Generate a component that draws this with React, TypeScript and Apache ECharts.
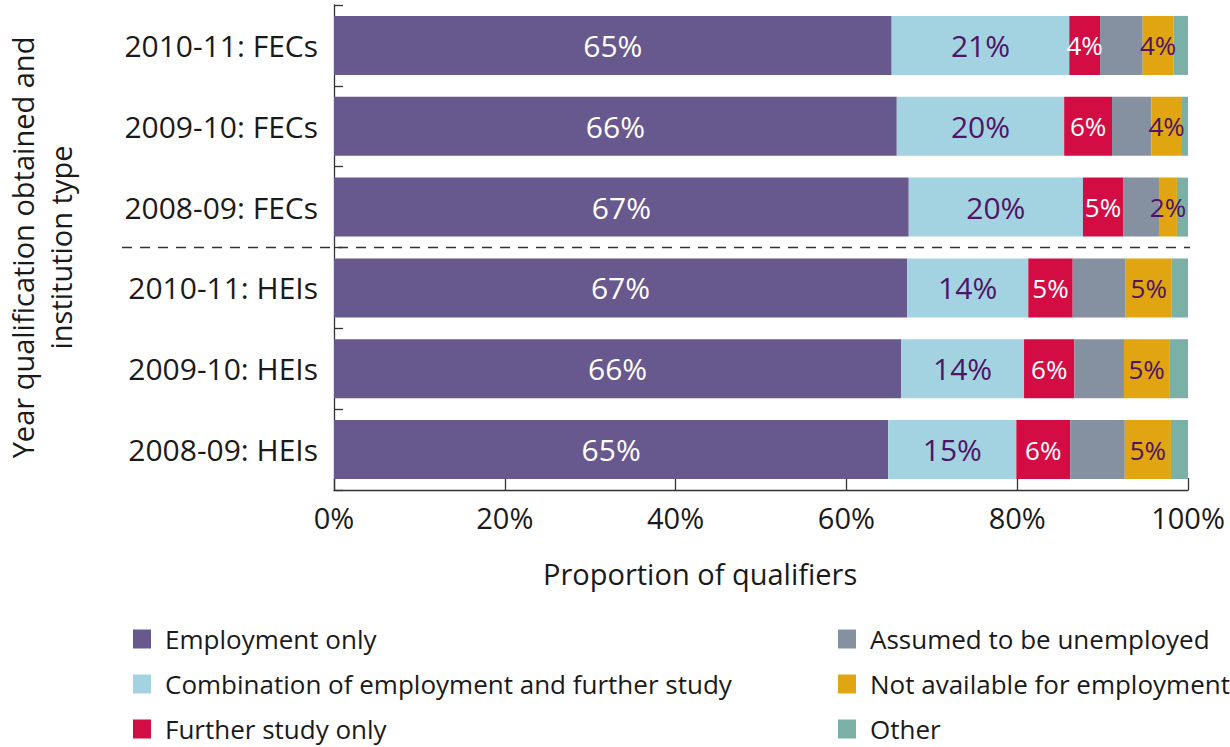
import React, { useEffect, useRef } from "react";
import * as echarts from "echarts";

const categories = [
  "2010-11: FECs",
  "2009-10: FECs",
  "2008-09: FECs",
  "2010-11: HEIs",
  "2009-10: HEIs",
  "2008-09: HEIs",
];

const employmentOnly = [65.3, 65.9, 67.3, 67.1, 66.4, 64.9];
const combination = [20.8, 19.6, 20.4, 14.2, 14.4, 15.0];
const furtherStudy = [3.6, 5.6, 4.7, 5.2, 5.9, 6.3];
const assumedUnemployed = [5.0, 4.6, 4.2, 6.2, 5.8, 6.4];
const notAvailable = [3.6, 3.6, 2.1, 5.4, 5.3, 5.4];
const other = [1.7, 0.7, 1.3, 1.9, 2.2, 2.0];

const xTicks = [0, 20, 40, 60, 80, 100];

const seriesNames = [
  "Employment only",
  "Combination of employment and further study",
  "Further study only",
  "Assumed to be unemployed",
  "Not available for employment",
  "Other",
];

const FONT = "'Open Sans', 'Noto Sans', sans-serif";
const TEXT = "#1a1a1a";

export default function App() {
  const ref = useRef<HTMLDivElement>(null);

  useEffect(() => {
    if (!ref.current) return;
    const chart = echarts.init(ref.current, undefined, { renderer: "svg" });

    const seriesData = [
      employmentOnly,
      combination,
      furtherStudy,
      assumedUnemployed,
      notAvailable,
      other,
    ];
    const colors = ["#67588e", "#a3d2e0", "#d30c43", "#8590a0", "#e0a511", "#7bb0a6"];
    const labelShow = [true, true, true, false, true, false];
    const labelColor = ["#ffffff", "#4e1466", "#ffffff", "#ffffff", "#4e1466", "#ffffff"];
    const labelSize = [30, 30, 26, 26, 26, 26];

    const series = seriesData.map((d, i) => ({
      name: seriesNames[i],
      type: "bar" as const,
      stack: "total",
      barWidth: 59,
      data: d,
      itemStyle: { color: colors[i] },
      label: {
        show: labelShow[i],
        position: "inside",
        formatter: (p: any) => Math.round(p.value) + "%",
        color: labelColor[i],
        fontSize: labelSize[i],
        fontFamily: FONT,
      },
      emphasis: { disabled: true },
    }));

    const legendText = {
      fontSize: 26,
      fontFamily: FONT,
      color: TEXT,
      padding: [0, 0, 0, 9],
      lineHeight: 26,
    };

    const legendBase = {
      orient: "vertical",
      top: 626,
      height: 118,
      padding: 0,
      itemWidth: 18,
      itemHeight: 19,
      itemGap: 19,
      icon: "rect",
      textStyle: legendText,
      selectedMode: false,
    };

    chart.setOption({
      animation: false,
      textStyle: { fontFamily: FONT },
      grid: {
        left: 334,
        right: 42,
        top: 5,
        bottom: 257,
        containLabel: false,
        outerBoundsMode: "none",
      },
      title: {
        text: "Proportion of qualifiers",
        left: 543,
        top: 559,
        padding: 0,
        textStyle: { fontSize: 29, fontWeight: "normal", color: TEXT, fontFamily: FONT },
      },
      legend: [
        { ...legendBase, data: seriesNames.slice(0, 3), left: 133 },
        { ...legendBase, data: seriesNames.slice(3), left: 838 },
      ],
      xAxis: {
        type: "value",
        min: 0,
        max: 100,
        interval: 20,
        axisLine: { show: true, lineStyle: { color: "#333", width: 1.3 } },
        axisTick: { show: true, inside: true, length: 12, lineStyle: { color: "#333", width: 1.3 } },
        splitLine: { show: false },
        axisLabel: {
          margin: 13,
          fontSize: 29,
          color: TEXT,
          fontFamily: FONT,
          formatter: (v: number) => (xTicks.includes(v) ? v + "%" : ""),
        },
      },
      yAxis: {
        type: "category",
        inverse: true,
        data: categories,
        name: "Year qualification obtained and\ninstitution type",
        nameLocation: "middle",
        nameRotate: 90,
        nameGap: 255,
        nameTextStyle: { fontSize: 29, color: TEXT, fontFamily: FONT, lineHeight: 38 },
        axisLine: { show: true, lineStyle: { color: "#333", width: 1.3 } },
        axisTick: { show: true, inside: true, length: 9, lineStyle: { color: "#333", width: 1.3 } },
        axisLabel: { margin: 16, fontSize: 30, color: TEXT, fontFamily: FONT },
      },
      series,
    });

    // separator between FECs and HEIs groups, placed from the axis scale
    const c2 = chart.convertToPixel({ yAxisIndex: 0 }, categories[2]) as number;
    const c3 = chart.convertToPixel({ yAxisIndex: 0 }, categories[3]) as number;
    const xEnd = (chart.convertToPixel({ xAxisIndex: 0 }, 100) as number) + 2;
    const ySep = (c2 + c3) / 2;
    chart.setOption({
      graphic: [
        {
          type: "line",
          shape: { x1: 122, y1: ySep, x2: xEnd, y2: ySep },
          style: { stroke: "#333", lineWidth: 1.5, lineDash: [10, 8] },
          z: 10,
        },
      ],
    });

    return () => chart.dispose();
  }, []);

  return (
    <div
      ref={ref}
      style={{ position: "absolute", left: 0, top: 0, width: 1230, height: 747, background: "#fff" }}
    />
  );
}
